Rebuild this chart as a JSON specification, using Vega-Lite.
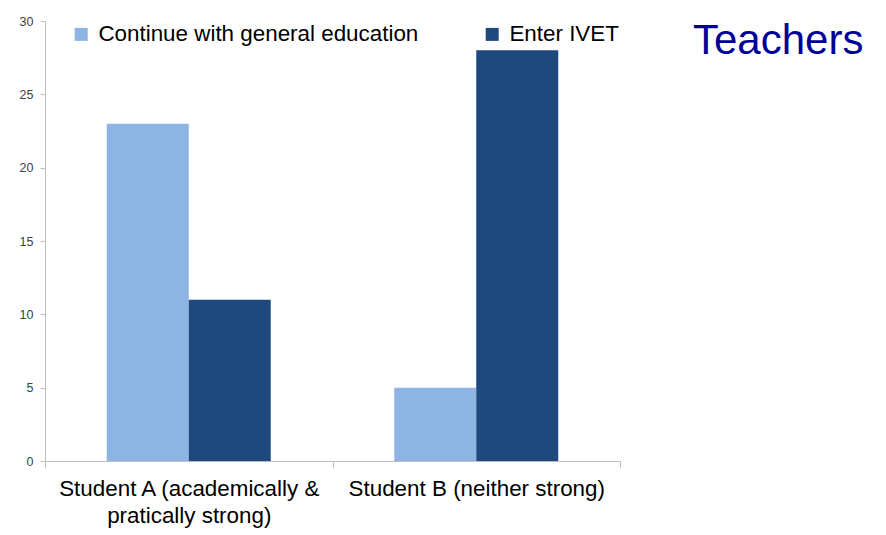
{
  "$schema": "https://vega.github.io/schema/vega-lite/v6.json",
  "autosize": {"type": "none"},
  "width": 575,
  "height": 440,
  "padding": {"left": 45, "top": 21, "right": 266, "bottom": 74},
  "background": "white",
  "title": {
    "text": "Teachers",
    "anchor": "start",
    "frame": "group",
    "orient": "top",
    "font": "Liberation Sans",
    "fontSize": 42,
    "fontWeight": "normal",
    "color": "#000099",
    "dx": 648,
    "dy": 48,
    "offset": 0
  },
  "data": {
    "values": [
      {"student": "Student A (academically & pratically strong)", "choice": "Continue with general education", "value": 23},
      {"student": "Student A (academically & pratically strong)", "choice": "Enter IVET", "value": 11},
      {"student": "Student B (neither strong)", "choice": "Continue with general education", "value": 5},
      {"student": "Student B (neither strong)", "choice": "Enter IVET", "value": 28}
    ]
  },
  "mark": {"type": "bar"},
  "encoding": {
    "x": {
      "field": "student",
      "type": "nominal",
      "sort": null,
      "title": null,
      "scale": {"paddingInner": 0, "paddingOuter": 0},
      "axis": {
        "labelAngle": 0,
        "tickBand": "extent",
        "labelFont": "Liberation Sans",
        "labelFontSize": 22.4,
        "labelColor": "#000000",
        "labelPadding": 9,
        "labelLineHeight": 27,
        "labelLimit": 400,
        "domainColor": "#bfbfbf",
        "tickColor": "#bfbfbf",
        "tickSize": 7,
        "labelExpr": "datum.label == 'Student A (academically & pratically strong)' ? ['Student A (academically &', 'pratically strong)'] : datum.label"
      }
    },
    "xOffset": {
      "field": "choice",
      "type": "nominal",
      "scale": {"paddingInner": 0, "paddingOuter": 0.753}
    },
    "y": {
      "field": "value",
      "type": "quantitative",
      "title": null,
      "scale": {"domain": [0, 30]},
      "axis": {
        "values": [0, 5, 10, 15, 20, 25, 30],
        "grid": false,
        "labelFont": "Liberation Sans",
        "labelFontSize": 12.5,
        "labelColor": "#404040",
        "labelPadding": 7,
        "domainColor": "#bfbfbf",
        "tickColor": "#bfbfbf",
        "tickSize": 5
      }
    },
    "color": {
      "field": "choice",
      "type": "nominal",
      "scale": {
        "domain": ["Continue with general education", "Enter IVET"],
        "range": ["#8EB4E3", "#1F497D"]
      },
      "legend": {
        "title": null,
        "orient": "none",
        "direction": "horizontal",
        "legendX": 25,
        "legendY": 2,
        "symbolType": "square",
        "symbolSize": 169,
        "symbolStrokeWidth": 0,
        "labelFont": "Liberation Sans",
        "labelFontSize": 22.4,
        "labelColor": "#000000",
        "labelOffset": 6,
        "columnPadding": 62,
        "labelLimit": 400,
        "padding": 0
      }
    }
  },
  "config": {
    "view": {"stroke": null}
  }
}
